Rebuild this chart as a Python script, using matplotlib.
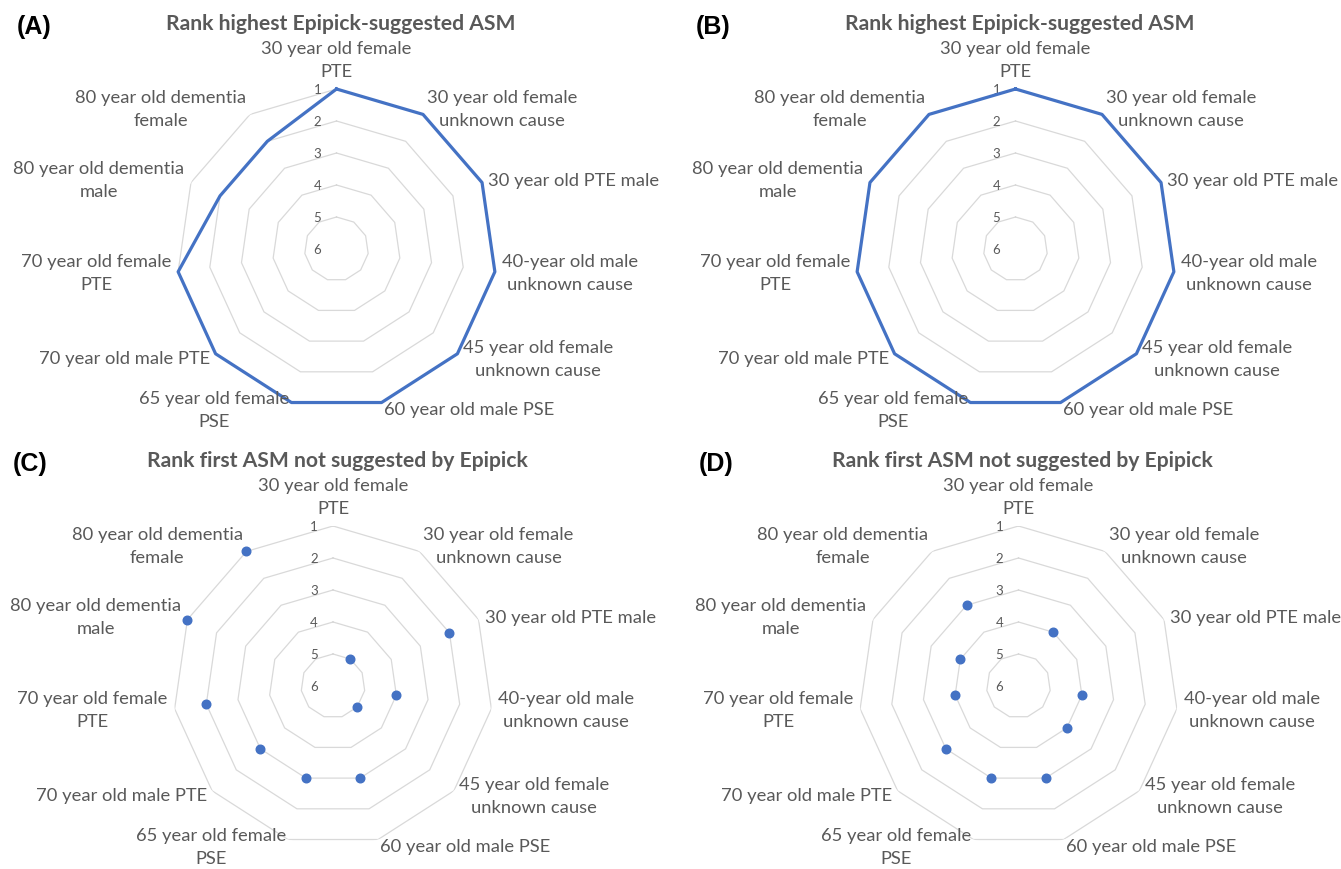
import numpy as np
import matplotlib
matplotlib.use("Agg")
import matplotlib.pyplot as plt

categories = [
    "30 year old female\nPTE",
    "30 year old female\nunknown cause",
    "30 year old PTE male",
    "40-year old male\nunknown cause",
    "45 year old female\nunknown cause",
    "60 year old male PSE",
    "65 year old female\nPSE",
    "70 year old male PTE",
    "70 year old female\nPTE",
    "80 year old dementia\nmale",
    "80 year old dementia\nfemale",
]

rank_a = [1, 1, 1, 1, 1, 1, 1, 1, 1, 2, 2]
rank_b = [1, 1, 1, 1, 1, 1, 1, 1, 1, 1, 1]
rank_c = [np.nan, 5, 2, 4, 5, 3, 3, 3, 2, 1, 1]
rank_d = [np.nan, 4, np.nan, 4, 4, 3, 3, 3, 4, 4, 3]

rank_ticks = [1, 2, 3, 4, 5, 6]

title_top = "Rank highest Epipick-suggested ASM"
title_bottom = "Rank first ASM not suggested by Epipick"

BLUE = "#4472C4"
GRID = "#d9d9d9"
TEXT = "#595959"

W, H = 1341, 870
R = 160

plt.rcParams["font.family"] = ["Lato", "DejaVu Sans"]

fig = plt.figure(figsize=(W / 100, H / 100), dpi=100)

n = len(categories)
angles = np.arange(n) * 2 * np.pi / n


def radar(cx, cy, values, letter, title, line):
    ax = fig.add_axes([(cx - R) / W, 1 - (cy + R) / H, 2 * R / W, 2 * R / H],
                      projection="polar")
    ax.set_theta_zero_location("N")
    ax.set_theta_direction(-1)
    ax.set_ylim(6, 1)
    ax.grid(False)
    ax.spines["polar"].set_visible(False)
    ax.set_xticks([])
    ax.set_yticks([])
    ax.patch.set_alpha(0)

    # polygon rings instead of circles
    th = np.append(angles, angles[0])
    for v in rank_ticks[:-1]:
        ax.plot(th, [v] * len(th), color=GRID, lw=0.9, zorder=1)

    for v in rank_ticks:
        ax.annotate(str(v), xy=(0, v), xytext=(-19, 0), textcoords="offset pixels",
                    ha="center", va="center", fontsize=9.5, color=TEXT)

    vals = np.array(values, dtype=float)
    if line:
        ax.plot(np.append(angles, angles[0]), np.append(vals, vals[0]),
                color=BLUE, lw=2.3, zorder=3, clip_on=False)
    else:
        ax.plot(angles, vals, "o", color=BLUE, ms=6.2, zorder=3, clip_on=False)

    for a, lab in zip(angles, categories):
        s, c = np.sin(a), np.cos(a)
        ha = "left" if s > 0.1 else ("right" if s < -0.1 else "center")
        va = "bottom" if c > 0.9 else "center"
        off = 10 if c > 0.9 else 7
        ax.annotate(lab, xy=(a, 1), xytext=(off * s, off * c), textcoords="offset pixels",
                    ha=ha, va=va, multialignment="center", fontsize=13.2,
                    color=TEXT, linespacing=1.55, annotation_clip=False)

    fig.text((cx + 4) / W, 1 - (cy - 226) / H, title, ha="center", va="center",
             fontsize=15.2, fontweight="bold", color=TEXT)
    fig.text((cx - 320) / W, 1 - (cy - 223) / H, letter, ha="left", va="center",
             fontsize=18, fontweight="bold", color="black",
             family=["Liberation Sans", "DejaVu Sans"])
    return ax


radar(336.5, 250, rank_a, "(A)", title_top, True)
radar(1015.5, 250, rank_b, "(B)", title_top, True)
radar(333, 687, rank_c, "(C)", title_bottom, False)
radar(1018.5, 687, rank_d, "(D)", title_bottom, False)

fig.savefig("out.png", dpi=100, facecolor="white")
